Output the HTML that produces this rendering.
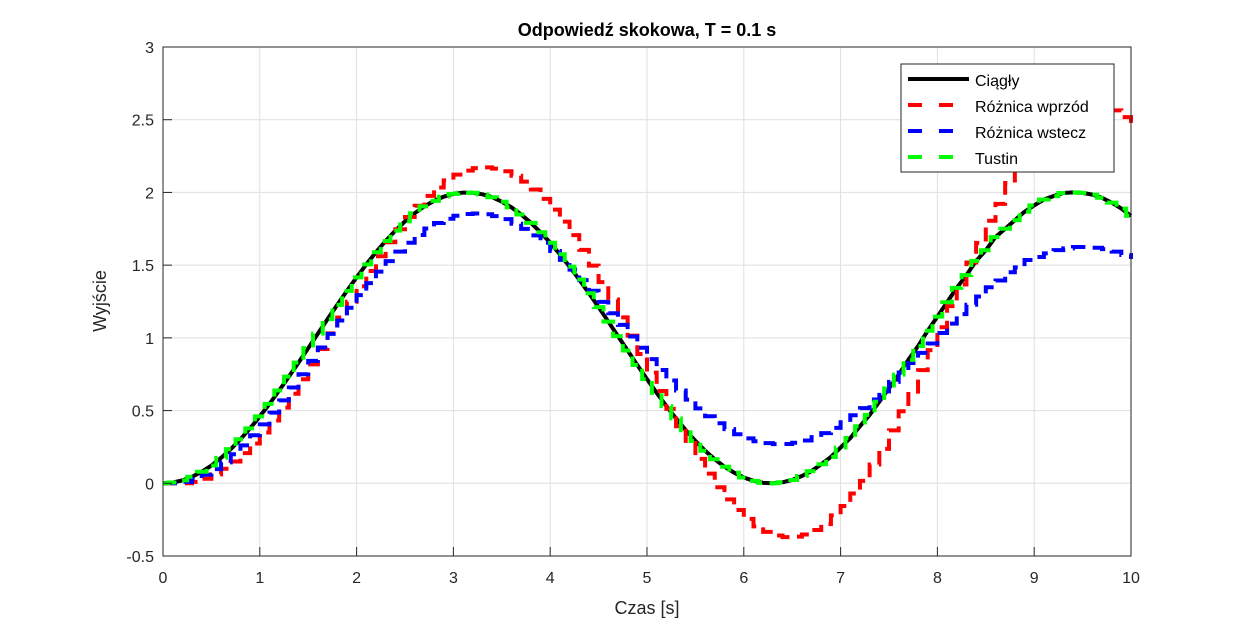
<!DOCTYPE html>
<html><head><meta charset="utf-8"><style>
body{margin:0;background:#fff;}
svg{display:block;font-family:"Liberation Sans",Arial,sans-serif;}
</style></head><body>
<svg id="chart" width="1250" height="625">
<rect x="0" y="0" width="1250" height="625" fill="#fff"/>
<rect x="163" y="47" width="968" height="509" fill="#fff"/>
<g id="grid"></g>
<g id="series"></g>
<rect x="163" y="47" width="968" height="509" fill="none" stroke="#262626" stroke-width="1"/>
<g id="ticks"></g>
<text x="647" y="36" text-anchor="middle" font-size="18" font-weight="bold" fill="#000">Odpowiedź skokowa, T = 0.1 s</text>
<text x="647" y="614" text-anchor="middle" font-size="18" fill="#262626">Czas [s]</text>
<text transform="translate(106,301) rotate(-90)" text-anchor="middle" font-size="18" fill="#262626">Wyjście</text>
<g>
<rect x="901" y="64" width="213" height="108" fill="#fff" stroke="#262626" stroke-width="1"/>
<g><line x1="908" y1="79" x2="969" y2="79" stroke="#000" stroke-width="4"/><text x="975" y="86" font-size="16" fill="#000">Ciągły</text></g>
<g><line x1="908" y1="105" x2="969" y2="105" stroke="#f00" stroke-width="4" stroke-dasharray="14,17"/><text x="975" y="112" font-size="16" fill="#000">Różnica wprzód</text></g>
<g><line x1="908" y1="131" x2="969" y2="131" stroke="#00f" stroke-width="4" stroke-dasharray="14,17"/><text x="975" y="138" font-size="16" fill="#000">Różnica wstecz</text></g>
<g><line x1="908" y1="157" x2="969" y2="157" stroke="#0f0" stroke-width="4" stroke-dasharray="14,17"/><text x="975" y="164" font-size="16" fill="#000">Tustin</text></g>
</g>
</svg>
<script>
const samplePeriod=0.1;
const continuous=[0,.005,.020,.045,.079,.122,.175,.235,.303,.378,.460,.546,.638,.733,.830,.929,1.029,1.129,1.227,1.323,1.416,1.505,1.589,1.666,1.737,1.801,1.857,1.904,1.942,1.971,1.990,1.999,1.998,1.987,1.967,1.936,1.897,1.848,1.791,1.726,1.654,1.575,1.490,1.401,1.307,1.211,1.112,1.012,.913,.813,.716,.622,.531,.446,.365,.291,.224,.165,.114,.073,.040,.017,.003,.000,.007,.023,.050,.084,.131,.181,.246,.311,.392,.470,.561,.653,.747,.849,.943,1.049,1.146,1.245,1.344,1.431,1.529,1.602,1.693,1.750,1.809,1.867,1.911,1.951,1.975,1.996,2.000,1.997,1.985,1.963,1.930,1.889,1.839];
const forward=[0,0,.000,.010,.031,.061,.100,.150,.207,.274,.349,.432,.520,.616,.715,.818,.923,1.031,1.140,1.248,1.355,1.460,1.561,1.657,1.747,1.831,1.908,1.976,2.034,2.083,2.122,2.150,2.167,2.172,2.164,2.146,2.115,2.074,2.020,1.956,1.882,1.799,1.706,1.605,1.497,1.383,1.264,1.141,1.015,.889,.761,.635,.512,.392,.278,.168,.066,-.027,-.111,-.184,-.245,-.296,-.334,-.359,-.370,-.367,-.352,-.321,-.281,-.221,-.156,-.070,.017,.129,.237,.364,.495,.630,.778,.916,1.073,1.218,1.367,1.518,1.653,1.805,1.921,2.065,2.159,2.260,2.353,2.428,2.499,2.544,2.586,2.600,2.603,2.592,2.564,2.518,2.459];
const backward=[0,0,.010,.030,.059,.097,.144,.200,.261,.330,.405,.486,.570,.659,.750,.842,.934,1.027,1.119,1.207,1.294,1.376,1.455,1.528,1.593,1.654,1.707,1.752,1.790,1.819,1.840,1.852,1.855,1.850,1.837,1.816,1.785,1.749,1.705,1.654,1.597,1.536,1.469,1.397,1.324,1.247,1.169,1.089,1.009,.932,.854,.779,.707,.638,.575,.515,.461,.413,.372,.337,.309,.289,.276,.269,.270,.279,.294,.317,.345,.381,.420,.468,.517,.576,.632,.697,.762,.827,.897,.961,1.033,1.098,1.163,1.228,1.284,1.348,1.394,1.451,1.485,1.535,1.556,1.581,1.603,1.615,1.625,1.625,1.620,1.610,1.593,1.570,1.542];
const tustin=continuous.slice();
const xTicks=[0,1,2,3,4,5,6,7,8,9,10];
const yTicks=[-0.5,0,0.5,1,1.5,2,2.5,3];
const yTickLabels=["-0.5","0","0.5","1","1.5","2","2.5","3"];

const NS="http://www.w3.org/2000/svg";
const X=t=>163+t*96.8;
const Y=v=>556-(v+0.5)*(509/3.5);
const grid=document.getElementById('grid'),ticks=document.getElementById('ticks'),ser=document.getElementById('series');
function mk(tag,attrs,parent){const e=document.createElementNS(NS,tag);for(const k in attrs)e.setAttribute(k,attrs[k]);parent.appendChild(e);return e;}
xTicks.forEach(t=>{
  const g=mk('line',{x1:X(t),x2:X(t),y1:47,y2:556,stroke:'#dfdfdf','stroke-width':1},grid);
  
  
  mk('line',{x1:X(t),x2:X(t),y1:556,y2:547,stroke:'#262626'},ticks);
  const tx=mk('text',{x:X(t),y:583,'text-anchor':'middle','font-size':16,fill:'#262626'},ticks);
  tx.textContent=String(t);
  
  
});
yTicks.forEach((v,i)=>{
  const g=mk('line',{x1:163,x2:1131,y1:Y(v),y2:Y(v),stroke:'#dfdfdf','stroke-width':1},grid);
  
  
  mk('line',{x1:163,x2:172,y1:Y(v),y2:Y(v),stroke:'#262626'},ticks);
  const tx=mk('text',{x:154,y:Y(v)+6,'text-anchor':'end','font-size':16,fill:'#262626'},ticks);
  tx.textContent=yTickLabels[i];
  
  
});
const tAt=i=>i*samplePeriod;
function stairs(vals,off){let d='M'+X(0)+','+Y(vals[0]);for(let i=1;i<vals.length;i++){const tt=Math.max(0,tAt(i)-off);d+=' H'+X(tt)+' V'+Y(vals[i]);}d+=' H'+X(10);return d;}
function line(vals){return vals.map((v,i)=>(i?'L':'M')+X(tAt(i))+','+Y(v)).join(' ');}
const pc=mk('path',{d:line(continuous),fill:'none',stroke:'#000','stroke-width':4,'stroke-linejoin':'round'},ser);


const pf=mk('path',{d:stairs(forward,0),fill:'none',stroke:'#f00','stroke-width':4,'stroke-dasharray':'14,8'},ser);


const pb=mk('path',{d:stairs(backward,0),fill:'none',stroke:'#00f','stroke-width':4,'stroke-dasharray':'14,8'},ser);


const pt=mk('path',{d:stairs(tustin,samplePeriod/2),fill:'none',stroke:'#0f0','stroke-width':4,'stroke-dasharray':'14,8'},ser);


</script>
</body></html>
